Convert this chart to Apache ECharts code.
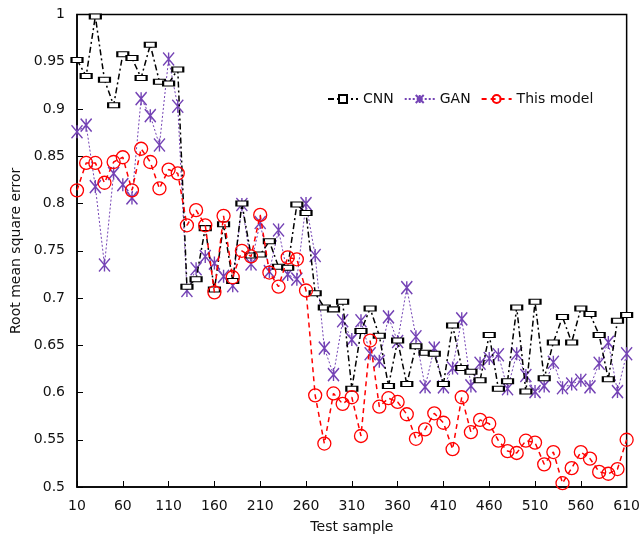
<!DOCTYPE html>
<html>
<head>
<meta charset="utf-8">
<script src="https://cdn.jsdelivr.net/npm/echarts@6/dist/echarts.min.js"></script>
<style>html,body{margin:0;padding:0;background:#fff}#c{width:643px;height:539px}</style>
</head>
<body>
<div id="c"></div>
<script>
var categories = [10,20,30,40,50,60,70,80,90,100,110,120,130,140,150,160,170,180,190,200,210,220,230,240,250,260,270,280,290,300,310,320,330,340,350,360,370,380,390,400,410,420,430,440,450,460,470,480,490,500,510,520,530,540,550,560,570,580,590,600,610];
var yTicks = {min: 0.5, max: 1, step: 0.05};
var cnn = [0.952,0.935,0.998,0.931,0.904,0.958,0.954,0.933,0.968,0.929,0.927,0.942,0.712,0.720,0.774,0.709,0.778,0.718,0.800,0.745,0.746,0.760,0.733,0.732,0.799,0.790,0.705,0.690,0.688,0.696,0.604,0.665,0.689,0.660,0.607,0.655,0.609,0.649,0.642,0.641,0.609,0.671,0.626,0.622,0.613,0.661,0.604,0.612,0.690,0.601,0.696,0.615,0.653,0.680,0.653,0.689,0.683,0.661,0.614,0.676,0.682];
var gan = [0.876,0.883,0.818,0.735,0.832,0.820,0.806,0.911,0.893,0.862,0.953,0.903,0.708,0.731,0.744,0.737,0.723,0.713,0.799,0.736,0.780,0.728,0.772,0.725,0.720,0.800,0.745,0.647,0.619,0.676,0.656,0.676,0.641,0.633,0.680,0.654,0.711,0.659,0.606,0.647,0.606,0.626,0.678,0.607,0.631,0.636,0.640,0.604,0.641,0.618,0.601,0.607,0.632,0.605,0.609,0.613,0.606,0.631,0.653,0.601,0.641];
var thisModel = [0.814,0.843,0.843,0.822,0.844,0.849,0.814,0.858,0.844,0.816,0.836,0.832,0.777,0.793,0.777,0.706,0.787,0.722,0.750,0.744,0.788,0.727,0.712,0.743,0.741,0.708,0.597,0.546,0.599,0.588,0.595,0.554,0.655,0.585,0.594,0.590,0.577,0.551,0.561,0.578,0.568,0.540,0.595,0.558,0.571,0.567,0.549,0.538,0.536,0.549,0.547,0.524,0.537,0.504,0.520,0.537,0.530,0.516,0.514,0.519,0.550];

var FONT = 'DejaVu Sans';
var purple = '#7443b5';
var TXT = '#111';
var chart = echarts.init(document.getElementById('c'), null, {renderer: 'canvas'});
chart.setOption({
  backgroundColor: '#fff',
  animation: false,
  textStyle: {fontFamily: FONT},
  grid: {left: 77, right: 14.5, top: 14.6, bottom: 51, show: true, borderColor: '#000', borderWidth: 1.5, backgroundColor: 'transparent'},
  legend: {
    left: 322, top: 87, itemWidth: 30, itemHeight: 10, itemGap: 10,
    textStyle: {fontFamily: FONT, fontSize: 14, color: TXT},
    data: ['CNN', 'GAN', 'This model']
  },
  xAxis: {
    type: 'category', data: categories, boundaryGap: false,
    name: 'Test sample', nameLocation: 'middle', nameGap: 33,
    nameTextStyle: {fontFamily: FONT, fontSize: 14, color: TXT},
    axisLine: {lineStyle: {color: '#000', width: 1.5}},
    axisTick: {inside: true, length: 6, interval: 4, lineStyle: {color: '#000'}},
    axisLabel: {interval: 4, margin: 12, fontFamily: FONT, fontSize: 14, color: TXT},
    splitLine: {show: false}
  },
  yAxis: {
    type: 'value', min: yTicks.min, max: yTicks.max, interval: yTicks.step,
    name: 'Root mean square error', nameLocation: 'middle', nameGap: 51,
    nameTextStyle: {fontFamily: FONT, fontSize: 14, color: TXT},
    axisLine: {show: true, lineStyle: {color: '#000', width: 1.5}},
    axisTick: {show: true, inside: true, length: 6, lineStyle: {color: '#000'}},
    axisLabel: {margin: 12, fontFamily: FONT, fontSize: 14, color: TXT,
      formatter: function (v) { return String(+v.toFixed(2)); }},
    splitLine: {show: false}
  },
  series: [
    {
      name: 'CNN', type: 'line', data: cnn,
      symbol: 'rect', symbolSize: [11, 5], showAllSymbol: true,
      itemStyle: {color: '#fff', borderColor: '#000', borderWidth: 1.5},
      lineStyle: {color: '#000', width: 1.5, type: [6, 3, 2, 3]},
      z: 3
    },
    {
      name: 'GAN', type: 'line', data: gan,
      symbol: 'path://M0,0L10,12M10,0L0,12M5,0L5,12', symbolSize: [11, 13], showAllSymbol: true,
      itemStyle: {color: purple, borderColor: purple, borderWidth: 1.5},
      lineStyle: {color: purple, width: 1, type: [2, 2]},
      z: 2
    },
    {
      name: 'This model', type: 'line', data: thisModel,
      symbol: 'circle', symbolSize: 13, showAllSymbol: true,
      itemStyle: {color: 'rgba(255,255,255,0)', borderColor: '#ff0000', borderWidth: 1.3},
      lineStyle: {color: '#ff0000', width: 1.5, type: [5, 4]},
      z: 4
    }
  ]
});
</script>
</body>
</html>
